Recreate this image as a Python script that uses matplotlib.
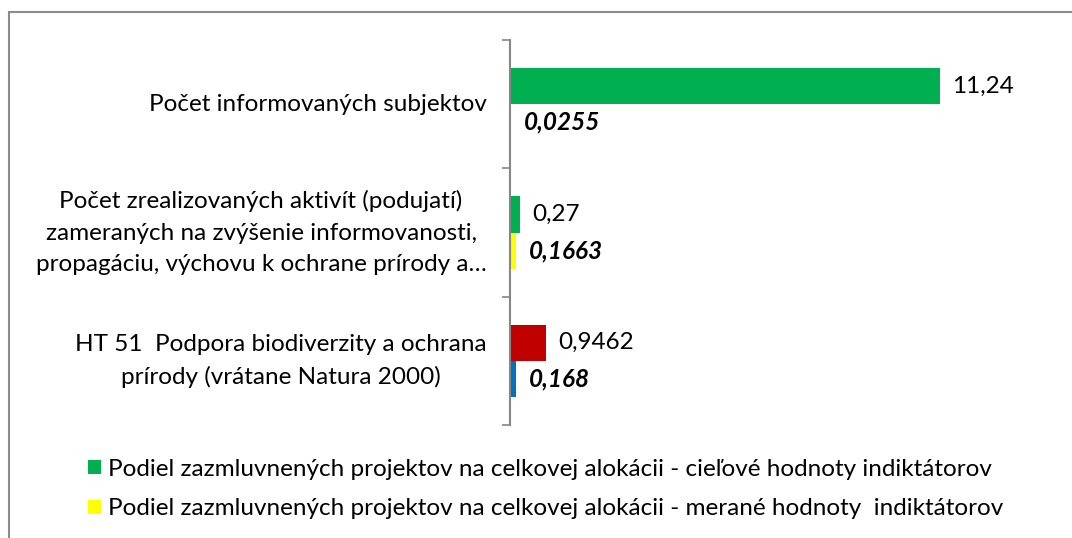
import matplotlib
matplotlib.use("Agg")
import matplotlib.pyplot as plt
from matplotlib.patches import Patch, Rectangle

categories = [
    "HT 51  Podpora biodiverzity a ochrana\nprírody (vrátane Natura 2000)",
    "Počet zrealizovaných aktivít (podujatí)\nzameraných na zvýšenie informovanosti,\npropagáciu, výchovu k ochrane prírody a…",
    "Počet informovaných subjektov",
]
target_values = [0.9462, 0.27, 11.24]
measured_values = [0.168, 0.1663, 0.0255]
target_colors = ["#C00000", "#00B050", "#00B050"]
measured_colors = ["#0070C0", "#FFFF00", "#FFFF00"]
legend_labels = [
    "Podiel zazmluvnených projektov na celkovej alokácii - cieľové hodnoty indiktátorov",
    "Podiel zazmluvnených projektov na celkovej alokácii - merané hodnoty  indiktátorov",
]

plt.rcParams["font.family"] = ["Lato", "DejaVu Sans"]
FS = 17.5

fig = plt.figure(figsize=(10.72, 5.38), dpi=100)
ax = fig.add_axes([510 / 1072, 1 - 425 / 538, 536 / 1072, 385 / 538])

h = 0.281
pos = list(range(len(categories)))
ax.barh([p + h / 2 for p in pos], target_values, height=h, color=target_colors)
ax.barh([p - h / 2 for p in pos], measured_values, height=h, color=measured_colors)

def fmt(v):
    return f"{v:g}".replace(".", ",")

for p, v in zip(pos, target_values):
    ax.annotate(fmt(v), (v, p + h / 2), xytext=(8.5, 0), textcoords="offset points",
                va="center", ha="left", fontsize=FS, color="black")
for p, v in zip(pos, measured_values):
    ax.annotate(fmt(v), (v, p - h / 2), xytext=(9, 0), textcoords="offset points",
                va="center", ha="left", fontsize=FS, fontweight="bold", fontstyle="italic",
                color="black")

ax.set_xlim(0, 14)
ax.set_ylim(-0.5, 2.5)
ax.set_yticks([-0.5, 0.5, 1.5, 2.5])
ax.set_yticklabels([])
ax.set_yticks(pos, minor=True)
ax.set_yticklabels(categories, minor=True, fontsize=FS, multialignment="center", linespacing=1.6,
                   va="center")
ax.tick_params(axis="y", which="major", length=6, width=1.2, color="#868686", direction="out")
ax.tick_params(axis="y", which="minor", length=0, pad=17)
ax.set_xticks([])
for s in ["top", "right", "bottom"]:
    ax.spines[s].set_visible(False)
ax.spines["left"].set_color("#868686")
ax.spines["left"].set_linewidth(1.5)

handles = [Patch(facecolor="#00B050", edgecolor="none"), Patch(facecolor="#FFFF00", edgecolor="none")]
fig.legend(handles, legend_labels, loc="center left", bbox_to_anchor=(78 / 1072, 1 - 489 / 538),
           frameon=False, fontsize=FS, handlelength=0.55, handleheight=0.55, handletextpad=0.3,
           labelspacing=0.78, borderaxespad=0)

fig.patches.append(Rectangle((9 / 1072, -0.1), 1.2, 1 - 11.5 / 538 + 0.1, transform=fig.transFigure,
                             fill=False, edgecolor="#8C8C8C", linewidth=1.5, clip_on=False))

fig.savefig("out.png", dpi=100, facecolor="white")
